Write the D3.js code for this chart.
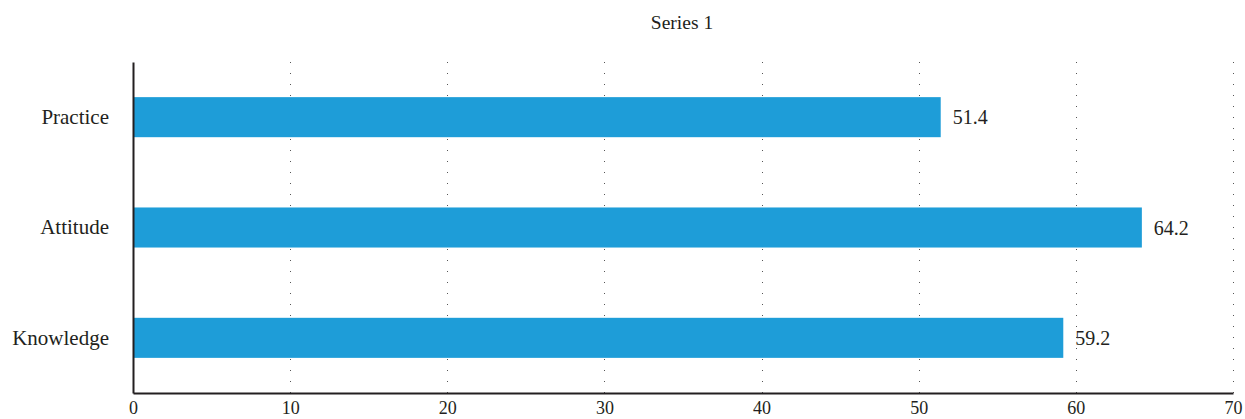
<!DOCTYPE html>
<html><head><meta charset="utf-8">
<script src="https://cdn.jsdelivr.net/npm/d3@7"></script>
<style>body{margin:0;background:#fff}svg{display:block}</style>
</head><body>
<script>
const categories = ["Practice", "Attitude", "Knowledge"];
const values = [51.4, 64.2, 59.2];
const ticks = [0, 10, 20, 30, 40, 50, 60, 70];
const seriesName = "Series 1";

const W = 1245, H = 419;
const m = {left: 133, right: 12, top: 62, bottom: 26};
const font = "'Liberation Serif', 'DejaVu Serif', serif";
const svg = d3.select("body").append("svg").attr("width", W).attr("height", H);

const x = d3.scaleLinear().domain([0, 70]).range([m.left, W - m.right]);
const y = d3.scaleBand().domain(categories).range([m.top, H - m.bottom]).paddingInner(0.637).paddingOuter(0.3185);

// grid
svg.append("g").selectAll("line").data(ticks.slice(1)).join("line")
  .attr("x1", d => Math.round(x(d)) + 0.5).attr("x2", d => Math.round(x(d)) + 0.5)
  .attr("y1", m.top).attr("y2", H - m.bottom)
  .attr("stroke", "#555").attr("stroke-width", 1).attr("stroke-dasharray", "1 10");

// bars
const data = categories.map((c, i) => ({c, v: values[i]}));
svg.append("g").selectAll("rect").data(data).join("rect")
  .attr("x", x(0)).attr("y", d => y(d.c)).attr("width", d => x(d.v) - x(0)).attr("height", y.bandwidth())
  .attr("fill", "#1e9dd8");

svg.append("g").selectAll("text").data(data).join("text")
  .attr("x", d => x(d.v) + 12).attr("y", d => y(d.c) + y.bandwidth() / 2)
  .attr("dy", "0.35em").attr("font-family", font).attr("font-size", 20).attr("fill", "#231f20")
  .text(d => d.v.toFixed(1));

// axes
const xa = svg.append("g").attr("transform", `translate(0,${H - m.bottom})`)
  .call(d3.axisBottom(x).tickValues(ticks).tickSize(0).tickPadding(8).tickFormat(d3.format("d")));
xa.select(".domain").attr("stroke", "#231f20").attr("stroke-width", 2);
xa.selectAll("text").attr("font-family", font).attr("font-size", 18).attr("fill", "#231f20");

const ya = svg.append("g").attr("transform", `translate(${m.left},0)`)
  .call(d3.axisLeft(y).tickSize(0).tickPadding(24));
ya.select(".domain").attr("stroke", "#231f20").attr("stroke-width", 2);
ya.selectAll("text").attr("font-family", font).attr("font-size", 21).attr("fill", "#231f20");

svg.append("text").attr("x", 682).attr("y", 29)
  .attr("text-anchor", "middle").attr("font-family", font).attr("font-size", 19.5).attr("fill", "#231f20")
  .text(seriesName);
</script>
</body></html>
